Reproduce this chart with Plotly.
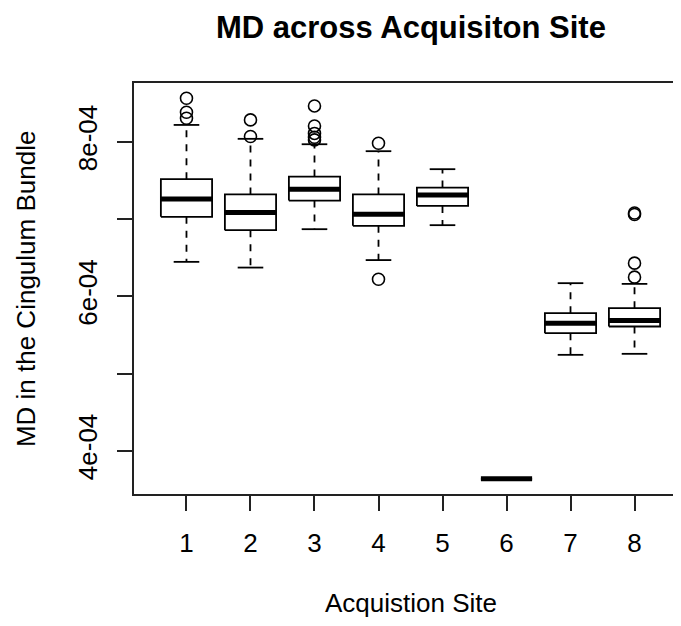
import plotly.graph_objects as go

# ---- data ----
sites = [1, 2, 3, 4, 5, 6, 7, 8]
site_labels = ["1", "2", "3", "4", "5", "6", "7", "8"]
lower_whisker = [6.447e-4, 6.373e-4, 6.870e-4, 6.470e-4, 6.922e-4, 3.638e-4, 5.243e-4, 5.256e-4]
q1 = [7.030e-4, 6.857e-4, 7.240e-4, 6.913e-4, 7.171e-4, 3.638e-4, 5.524e-4, 5.610e-4]
median = [7.260e-4, 7.085e-4, 7.387e-4, 7.064e-4, 7.314e-4, 3.638e-4, 5.653e-4, 5.687e-4]
q3 = [7.517e-4, 7.320e-4, 7.551e-4, 7.320e-4, 7.409e-4, 3.638e-4, 5.782e-4, 5.847e-4]
upper_whisker = [8.220e-4, 8.040e-4, 7.970e-4, 7.880e-4, 7.647e-4, 3.638e-4, 6.171e-4, 6.162e-4]
outlier_site = [1, 1, 1, 2, 2, 3, 3, 3, 3, 3, 4, 4, 8, 8, 8, 8]
outlier_value = [8.566e-4, 8.384e-4, 8.307e-4,
                 8.285e-4, 8.070e-4,
                 8.466e-4, 8.207e-4, 8.110e-4, 8.060e-4, 8.026e-4,
                 7.983e-4, 6.222e-4,
                 7.080e-4, 7.060e-4, 6.430e-4, 6.249e-4]
y_tick_values = [4e-4, 5e-4, 6e-4, 7e-4, 8e-4]
y_tick_labels = ["4e-04", "", "6e-04", "", "8e-04"]

title_text = "MD across Acquisiton Site"
x_title = "Acquistion Site"
y_title = "MD in the Cingulum Bundle"

# ---- style ----
FONT = "Liberation Sans, Arial, Helvetica, sans-serif"
HALF = 0.4      # half box width (boxwex 0.8)
STAPLE = 0.2    # half staple width

box_x, box_y = [], []
med_x, med_y = [], []
wh_x, wh_y = [], []
st_x, st_y = [], []
for s, lo, a, m, b, hi in zip(sites, lower_whisker, q1, median, q3, upper_whisker):
    box_x += [s - HALF, s + HALF, s + HALF, s - HALF, s - HALF, None]
    box_y += [a, a, b, b, a, None]
    med_x += [s - HALF, s + HALF, None]
    med_y += [m, m, None]
    if hi > b:
        wh_x += [s, s, None]
        wh_y += [b, hi, None]
    if lo < a:
        wh_x += [s, s, None]
        wh_y += [a, lo, None]
    st_x += [s - STAPLE, s + STAPLE, None, s - STAPLE, s + STAPLE, None]
    st_y += [hi, hi, None, lo, lo, None]

fig = go.Figure()
fig.add_trace(go.Scatter(x=wh_x, y=wh_y, mode="lines",
                         line=dict(color="black", width=1.8, dash="7px,7px"),
                         hoverinfo="skip", showlegend=False))
fig.add_trace(go.Scatter(x=st_x, y=st_y, mode="lines",
                         line=dict(color="black", width=1.8),
                         hoverinfo="skip", showlegend=False))
fig.add_trace(go.Scatter(x=box_x, y=box_y, mode="lines",
                         line=dict(color="black", width=1.8),
                         hoverinfo="skip", showlegend=False))
fig.add_trace(go.Scatter(x=med_x, y=med_y, mode="lines",
                         line=dict(color="black", width=5),
                         hoverinfo="skip", showlegend=False))
fig.add_trace(go.Scatter(x=outlier_site, y=outlier_value, mode="markers",
                         marker=dict(symbol="circle-open", size=12,
                                     color="black", line=dict(width=1.6, color="black")),
                         hoverinfo="skip", showlegend=False))

fig.update_layout(
    width=681, height=626,
    margin=dict(l=126, r=0, t=75, b=140),
    paper_bgcolor="white", plot_bgcolor="white",
    font=dict(family=FONT, size=26, color="black"),
    xaxis=dict(range=[0.18, 8.82], tickvals=sites, ticktext=site_labels,
               showgrid=False, zeroline=False, showline=True, mirror=True,
               linecolor="#222222", linewidth=1.6, ticks="outside",
               ticklen=15, tickwidth=1.6, tickcolor="#222222",
               ticklabelstandoff=10,
               tickfont=dict(family=FONT, size=26, color="black")),
    yaxis=dict(range=[3.441e-4, 8.763e-4], tickvals=y_tick_values,
               ticktext=y_tick_labels, tickangle=-90,
               showgrid=False, zeroline=False, showline=True, mirror=True,
               linecolor="#222222", linewidth=1.6, ticks="outside",
               ticklen=15, tickwidth=1.6, tickcolor="#222222",
               ticklabelstandoff=10,
               tickfont=dict(family=FONT, size=26, color="black")),
    annotations=[
        dict(text="<b>" + title_text + "</b>", xref="x", yref="paper",
             x=4.5, y=1.0 + 75 / 411, xanchor="center", yanchor="top", showarrow=False,
             font=dict(family=FONT, size=31, color="black")),
        dict(text=x_title, xref="x", yref="paper", x=4.5, y=-0.265,
             xanchor="center", yanchor="middle", showarrow=False,
             font=dict(family=FONT, size=26, color="black")),
        dict(text=y_title, xref="paper", yref="paper", x=-0.196, y=0.5,
             xanchor="center", yanchor="middle", textangle=-90, showarrow=False,
             font=dict(family=FONT, size=26, color="black")),
    ],
)

fig.write_html("out.html")
